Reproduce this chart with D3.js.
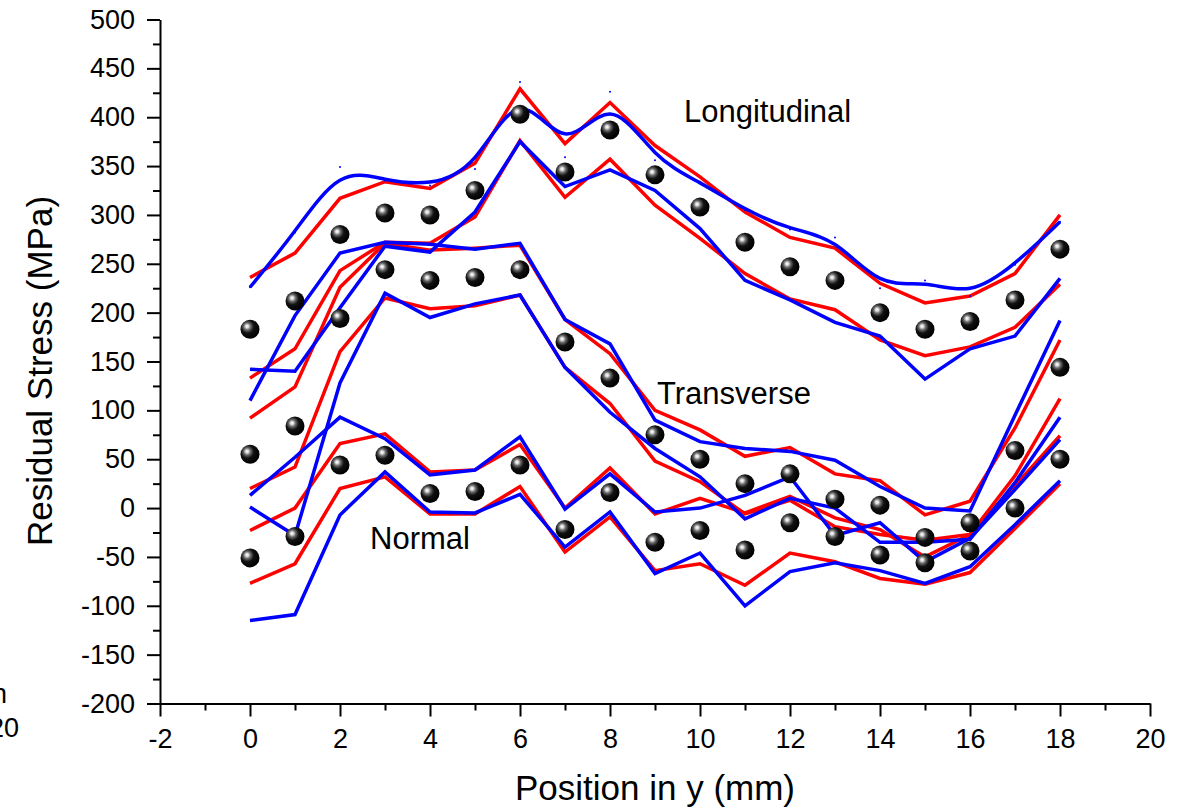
<!DOCTYPE html>
<html>
<head>
<meta charset="utf-8">
<script src="https://cdn.jsdelivr.net/npm/d3@7"></script>
<style>
  body { margin: 0; background: #fff; }
  text { font-family: Arial, "Liberation Sans", sans-serif; fill: #000; }
  .axis path, .axis line { stroke: #000; stroke-width: 2; }
  .axis text { font-size: 27px; }
</style>
</head>
<body>
<div class="chart"></div>
<script>
// positions along y (mm)
var positions = [0, 1, 2, 3, 4, 5, 6, 7, 8, 9, 10, 11, 12, 13, 14, 15, 16, 17, 18];

// measured values (dots)
var longMeasured  = [183, 212, 280, 302, 300, 325, 403, 344, 387, 341, 308, 272, 247, 233, 200, 183, 191, 213, 265];
var transMeasured = [55, 84, 194, 244, 233, 236, 244, 170, 133, 75, 50, 25, 35, 9, 3, -30, -15, 59, 144];
var normMeasured  = [-51, -29, 44, 54, 15, 17, 44, -22, 16, -35, -23, -43, -15, -29, -48, -56, -44, 0, 50];

// longitudinal bands
var longUpperRed  = [236, 261, 317, 334, 327, 353, 429, 373, 415, 371, 339, 303, 277, 266, 230, 210, 217, 240, 300];
var longUpperBlue = [226, 282, 349, 335, 330, 347, 436, 359, 426, 356, 334, 305, 285, 277, 225, 233, 217, 249, 293];
var longLowerRed  = [133, 163, 243, 272, 271, 298, 376, 318, 357, 310, 276, 240, 214, 203, 172, 156, 165, 185, 229];
var longLowerBlue = [142, 140, 205, 268, 262, 303, 375, 329, 346, 325, 286, 233, 213, 190, 176, 132, 163, 176, 235];

// transverse bands
var transUpperRed  = [92, 124, 226, 271, 264, 266, 269, 193, 158, 100, 80, 53, 62, 35, 28, -7, 7, 82, 172];
var transUpperBlue = [110, 197, 261, 272, 270, 265, 271, 193, 168, 90, 68, 61, 58, 49, 22, 0, -3, 95, 192];
var transLowerRed  = [20, 42, 160, 215, 204, 207, 218, 144, 107, 48, 27, -6, 8, -19, -27, -33, -27, 33, 112];
var transLowerBlue = [1, -28, 128, 220, 195, 209, 218, 144, 98, 61, 32, -11, 10, 0, -35, -35, -32, 26, 93];

// normal bands
var normUpperRed  = [-23, 0, 66, 76, 37, 39, 65, 0, 41, -6, 10, -5, 12, -10, -22, -50, -27, 23, 74];
var normUpperBlue = [13, 52, 93, 71, 34, 39, 73, -1, 35, -4, 0, 13, 32, -28, -15, -55, -31, 19, 70];
var normLowerRed  = [-77, -57, 20, 32, -6, -6, 22, -45, -9, -64, -57, -79, -46, -55, -72, -78, -66, -21, 25];
var normLowerBlue = [-115, -109, -7, 37, -4, -5, 14, -40, -4, -67, -46, -100, -65, -56, -64, -77, -60, -17, 28];

var xMajorTicks = [-2, 0, 2, 4, 6, 8, 10, 12, 14, 16, 18, 20];
var xMinorTicks = [-1, 1, 3, 5, 7, 9, 11, 13, 15, 17, 19];
var yMajorTicks = [-200, -150, -100, -50, 0, 50, 100, 150, 200, 250, 300, 350, 400, 450, 500];
var yMinorTicks = [-175, -125, -75, -25, 25, 75, 125, 175, 225, 275, 325, 375, 425, 475];

var svgWidth = 1192;
var svgHeight = 809;

var svg = d3.select(".chart")
  .append("svg")
  .attr("width", svgWidth)
  .attr("height", svgHeight);

var xScale = d3.scaleLinear().domain([-2, 20]).range([160, 1150]);
var yScale = d3.scaleLinear().domain([-200, 500]).range([703.5, 19.5]);

// plain hyphen for negatives, like the original
var plain = d => String(d);

// sphere look for the dots
var grad = svg.append("defs").append("radialGradient")
  .attr("id", "ball")
  .attr("cx", "0.38").attr("cy", "0.38").attr("r", "0.62")
  .attr("fx", "0.34").attr("fy", "0.34");
grad.append("stop").attr("offset", "0").attr("stop-color", "#ffffff");
grad.append("stop").attr("offset", "0.12").attr("stop-color", "#e0e0e0");
grad.append("stop").attr("offset", "0.3").attr("stop-color", "#6a6a6a");
grad.append("stop").attr("offset", "0.55").attr("stop-color", "#111");
grad.append("stop").attr("offset", "1").attr("stop-color", "#000");

// axes
svg.append("g")
  .attr("class", "axis")
  .attr("transform", "translate(160,0)")
  .call(d3.axisLeft(yScale).tickValues(yMajorTicks).tickSize(13).tickSizeOuter(0).tickPadding(12).tickFormat(plain));

svg.append("g")
  .attr("class", "axis")
  .attr("transform", "translate(160,0)")
  .call(d3.axisLeft(yScale).tickValues(yMinorTicks).tickSize(7).tickSizeOuter(0).tickFormat(""))
  .select(".domain").remove();

svg.append("g")
  .attr("class", "axis")
  .attr("transform", "translate(0,703.5)")
  .call(d3.axisBottom(xScale).tickValues(xMajorTicks).tickSize(13).tickSizeOuter(0).tickPadding(12).tickFormat(plain));

svg.append("g")
  .attr("class", "axis")
  .attr("transform", "translate(0,703.5)")
  .call(d3.axisBottom(xScale).tickValues(xMinorTicks).tickSize(7).tickSizeOuter(0).tickFormat(""))
  .select(".domain").remove();

// lines
var line = d3.line()
  .x((d, i) => xScale(positions[i]))
  .y(d => yScale(d));

var smooth = d3.line()
  .x((d, i) => xScale(positions[i]))
  .y(d => yScale(d))
  .curve(d3.curveBasis);

var redLines = [longUpperRed, longLowerRed, transUpperRed, transLowerRed, normUpperRed, normLowerRed];
var blueLines = [longLowerBlue, transUpperBlue, transLowerBlue, normUpperBlue, normLowerBlue];

var linesGroup = svg.append("g").attr("fill", "none").attr("stroke-width", 3.5);

linesGroup.selectAll(".red")
  .data(redLines)
  .enter()
  .append("path")
  .attr("class", "red")
  .attr("stroke", "#ff0000")
  .attr("d", line);

linesGroup.selectAll(".blue")
  .data(blueLines)
  .enter()
  .append("path")
  .attr("class", "blue")
  .attr("stroke", "#0000ff")
  .attr("d", line);

linesGroup.append("path")
  .attr("stroke", "#0000ff")
  .attr("d", smooth(longUpperBlue));

// raw points of the smoothed curve
svg.append("g").selectAll("circle")
  .data(longUpperBlue)
  .enter()
  .append("circle")
  .attr("cx", (d, i) => xScale(positions[i]))
  .attr("cy", d => yScale(d))
  .attr("r", 1)
  .attr("fill", "#0000ff");

// measured dots
var measured = [longMeasured, transMeasured, normMeasured];
svg.append("g").selectAll("g")
  .data(measured)
  .enter()
  .append("g")
  .selectAll("circle")
  .data(d => d)
  .enter()
  .append("circle")
  .attr("cx", (d, i) => xScale(positions[i]))
  .attr("cy", d => yScale(d))
  .attr("r", 9.5)
  .attr("fill", "url(#ball)");

// labels
svg.append("text").attr("x", 684).attr("y", 122).style("font-size", "31px").text("Longitudinal");
svg.append("text").attr("x", 657).attr("y", 404).style("font-size", "31px").text("Transverse");
svg.append("text").attr("x", 370).attr("y", 549).style("font-size", "31px").text("Normal");

// axis titles
svg.append("text")
  .attr("x", 655)
  .attr("y", 800)
  .attr("text-anchor", "middle")
  .style("font-size", "35px")
  .text("Position in y (mm)");

svg.append("text")
  .attr("transform", "translate(52,371) rotate(-90)")
  .attr("text-anchor", "middle")
  .style("font-size", "35px")
  .text("Residual Stress (MPa)");

// cut-off text at the left edge, as in the original figure
svg.append("text").attr("x", 7).attr("y", 703).attr("text-anchor", "end").style("font-size", "27px").text("n");
svg.append("text").attr("x", 19).attr("y", 737).attr("text-anchor", "end").style("font-size", "27px").text("20");
</script>
</body>
</html>
